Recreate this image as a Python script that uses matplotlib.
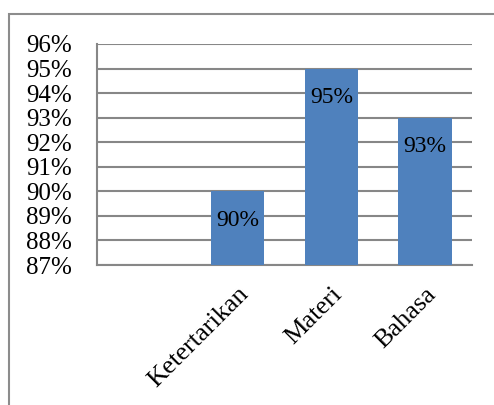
import matplotlib
matplotlib.use("Agg")
import matplotlib.pyplot as plt
from matplotlib.patches import Rectangle
from matplotlib.ticker import FuncFormatter, MultipleLocator

categories = ["", "Ketertarikan", "Materi", "Bahasa"]
values = [None, 90, 95, 93]
ytick_min, ytick_max = 87, 96

plt.rcParams['font.family'] = ['Liberation Serif', 'DejaVu Serif']

W, H = 494, 405
fig = plt.figure(figsize=(W / 100, H / 100), dpi=100)
ax = fig.add_axes([97 / W, 1 - 265 / H, (472 - 97) / W, (265 - 44) / H])

xs = list(range(len(categories)))
bar_x = [x for x, v in zip(xs, values) if v is not None]
bar_v = [v for v in values if v is not None]
ax.bar(bar_x, [v - ytick_min for v in bar_v], bottom=ytick_min,
       width=0.57, color="#4F81BD", zorder=3)
for x, v in zip(bar_x, bar_v):
    ax.text(x, v - 1.18, f"{v}%", ha="center", va="center",
            fontsize=17, color="black", zorder=4)

ax.set_xlim(-0.5, len(categories) - 0.5)
ax.set_ylim(ytick_min, ytick_max)
ax.yaxis.set_major_locator(MultipleLocator(1))
ax.yaxis.set_major_formatter(FuncFormatter(lambda v, p: f"{v:.0f}%"))
ax.grid(axis="y", color="#878787", linewidth=1.5, zorder=1)
ax.set_xticks(xs)
ax.set_xticklabels(categories, rotation=45, ha="right",
                   rotation_mode="anchor", fontsize=19)
ax.tick_params(axis="x", length=0, pad=13)
ax.tick_params(axis="y", length=0, pad=18, labelsize=18)
for s in ["top", "right"]:
    ax.spines[s].set_visible(False)
for s in ["left", "bottom"]:
    ax.spines[s].set_color("#878787")
    ax.spines[s].set_linewidth(1.5)

fig.patches.append(Rectangle((8.5 / W, -0.2), 1.2, 1.2 - 14 / H, transform=fig.transFigure,
                             fill=False, edgecolor="#8c8c8c", linewidth=1.5))

fig.savefig("out.png", dpi=100)
